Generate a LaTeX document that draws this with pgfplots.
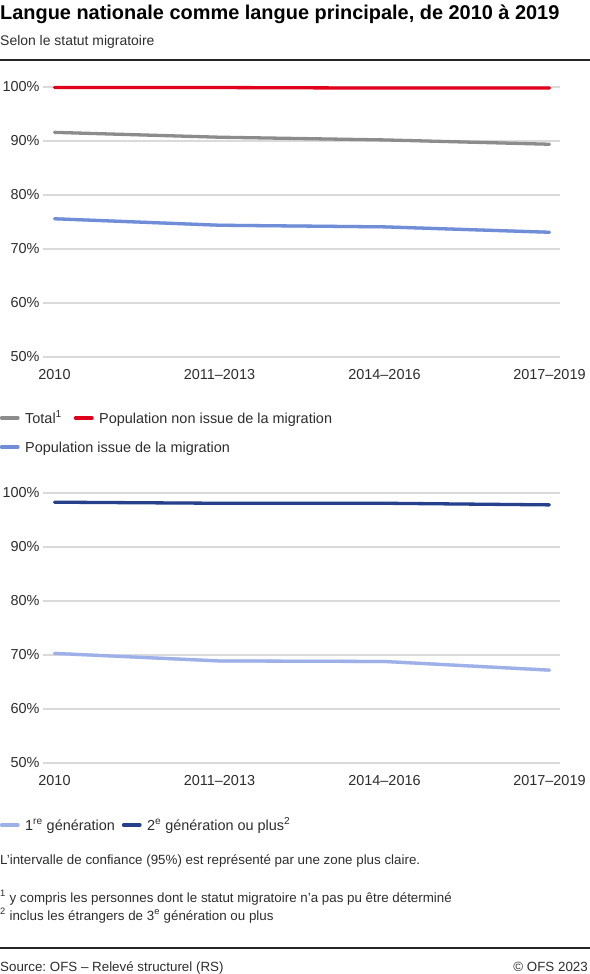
\documentclass[border=0pt]{standalone}
\usepackage{pgfplots}
\pgfplotsset{compat=1.18}
\usepackage{fontspec}
\setmainfont{Liberation Sans}
\frenchspacing
\definecolor{cred}{RGB}{224,0,28}
\definecolor{cgray}{RGB}{140,140,140}
\definecolor{cblue}{RGB}{112,142,216}
\definecolor{cnavy}{RGB}{38,64,140}
\definecolor{clight}{RGB}{157,176,232}
\definecolor{ctext}{RGB}{45,45,45}
\definecolor{cgrid}{RGB}{218,218,218}
\pgfplotsset{myaxis/.style={
  scale only axis, width=517bp, height=270bp,
  xmin=-0.0697, xmax=3.064, ymin=50, ymax=100,
  xtick={0,1,2,3}, xticklabels={2010,2011--2013,2014--2016,2017--2019},
  ytick={50,60,...,100}, yticklabel={\pgfmathprintnumber{\tick}\%},
  axis lines=left, axis line style={draw=none}, major tick length=0pt,
  ymajorgrids, grid style={cgrid, line width=1.3bp},
  tick label style={font=\fontsize{14.5}{16}\selectfont, text=ctext},
  xticklabel style={yshift=-9bp},
  /pgf/number format/assume math mode=true,
  clip=false,
  every axis plot/.append style={line width=3.3bp, line cap=round, line join=round},
}}
\begin{document}
\begin{tikzpicture}
\useasboundingbox (0,0) rectangle (590bp,-974bp);
\node[anchor=base west, inner sep=0, font=\fontsize{20}{23}\selectfont\bfseries] at (0bp,-19bp) {Langue nationale comme langue principale, de 2010 à 2019};
\node[anchor=base west, inner sep=0, text=ctext, font=\fontsize{14}{16}\selectfont] at (0bp,-45bp) {Selon le statut migratoire};
\draw[line width=1.5bp, black!85] (0bp,-60bp) -- (590bp,-60bp);

\begin{axis}[myaxis, at={(43bp,-357bp)}, anchor=south west]
\addplot[draw=none, fill=cgray!35] coordinates {(0,91.8) (1,90.9) (2,90.4) (3,89.6) (3,89.2) (2,90.0) (1,90.5) (0,91.4)} -- cycle;
\addplot[draw=none, fill=cblue!30] coordinates {(0,75.9) (1,74.7) (2,74.4) (3,73.4) (3,72.8) (2,73.8) (1,74.1) (0,75.3)} -- cycle;
\addplot[cgray] coordinates {(0,91.6) (1,90.7) (2,90.2) (3,89.4)};
\addplot[cblue] coordinates {(0,75.6) (1,74.4) (2,74.1) (3,73.1)};
\addplot[cred] coordinates {(0,99.9) (1,99.9) (2,99.8) (3,99.8)};
\end{axis}

% legend 1
\begin{scope}[every node/.style={anchor=base west, inner sep=0, text=ctext, font=\fontsize{14.5}{16}\selectfont}]
\draw[cgray, line width=3.3bp, line cap=round] (1.5bp,-418bp) -- (18bp,-418bp);
\node at (25bp,-423bp) {Total\textsuperscript{1}};
\draw[cred, line width=3.3bp, line cap=round] (75.5bp,-418bp) -- (92bp,-418bp);
\node at (99bp,-423bp) {Population non issue de la migration};
\draw[cblue, line width=3.3bp, line cap=round] (1.5bp,-447bp) -- (18bp,-447bp);
\node at (25bp,-452bp) {Population issue de la migration};
\end{scope}

\begin{axis}[myaxis, at={(43bp,-763bp)}, anchor=south west]
\addplot[draw=none, fill=cnavy!25] coordinates {(0,98.5) (1,98.3) (2,98.3) (3,98.0) (3,97.6) (2,97.9) (1,97.9) (0,98.1)} -- cycle;
\addplot[draw=none, fill=clight!40] coordinates {(0,70.6) (1,69.2) (2,69.1) (3,67.5) (3,66.9) (2,68.5) (1,68.6) (0,70.0)} -- cycle;
\addplot[clight] coordinates {(0,70.3) (1,68.9) (2,68.8) (3,67.2)};
\addplot[cnavy] coordinates {(0,98.3) (1,98.1) (2,98.1) (3,97.8)};
\end{axis}

\begin{scope}[every node/.style={anchor=base west, inner sep=0, text=ctext, font=\fontsize{14.5}{16}\selectfont}]
\draw[clight, line width=3.3bp, line cap=round] (1.5bp,-825bp) -- (18bp,-825bp);
\node at (25bp,-830bp) {1\textsuperscript{re} génération};
\draw[cnavy, line width=3.3bp, line cap=round] (123.5bp,-825bp) -- (140bp,-825bp);
\node at (147bp,-830bp) {2\textsuperscript{e} génération ou plus\textsuperscript{2}};
\end{scope}

\begin{scope}[every node/.style={anchor=base west, inner sep=0, text=ctext, font=\fontsize{13.4}{15}\selectfont}]
\node at (0bp,-864bp) {L'intervalle de confiance (95\%) est représenté par une zone plus claire.};
\node at (0bp,-902bp) {\textsuperscript{1} y compris les personnes dont le statut migratoire n'a pas pu être déterminé};
\node at (0bp,-920bp) {\textsuperscript{2} inclus les étrangers de 3\textsuperscript{e} génération ou plus};
\node at (0bp,-971bp) {Source: OFS -- Relevé structurel (RS)};
\node[anchor=base east] at (588bp,-971bp) {© OFS 2023};
\end{scope}
\draw[line width=1.3bp, black!85] (0bp,-948bp) -- (590bp,-948bp);
\end{tikzpicture}
\end{document}
